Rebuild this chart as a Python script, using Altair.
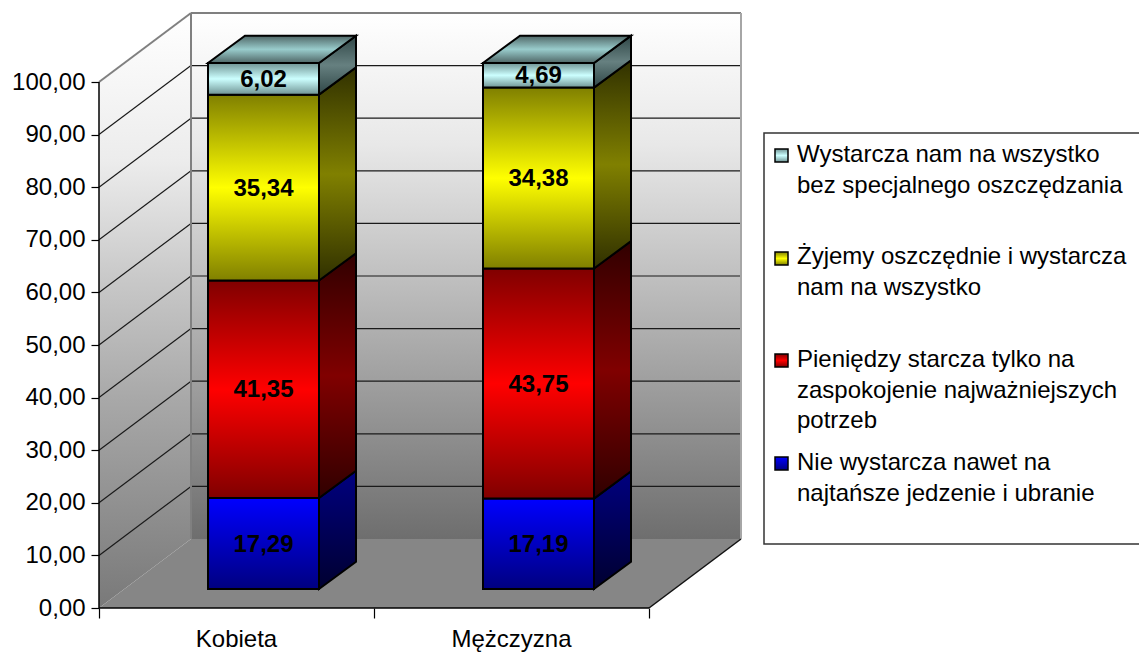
import altair as alt
import pandas as pd

# ---- data ----
categories = ["Kobieta", "Mężczyzna"]
nie_wystarcza = [17.29, 17.19]
pieniedzy = [41.35, 43.75]
zyjemy = [35.34, 34.38]
wystarcza = [6.02, 4.69]
y_ticks = [0, 10, 20, 30, 40, 50, 60, 70, 80, 90, 100]
legend_lines = [
    ["Wystarcza nam na wszystko", "bez specjalnego oszczędzania"],
    ["Żyjemy oszczędnie i wystarcza", "nam na wszystko"],
    ["Pieniędzy starcza tylko na", "zaspokojenie najważniejszych", "potrzeb"],
    ["Nie wystarcza nawet na", "najtańsze jedzenie i ubranie"],
]

# ---- geometry of the oblique projection ----
PX = 5.26            # pixels per unit on the value axis
X0, X_SLOT = 99, 275
WALL_DX, WALL_DV = 92, 69 / PX
BAR_W, BAR_DX, BAR_DV = 111, 37, 27.3 / PX
BAR_OFFSET = 109
BASE = 19 / PX
VIEW_W, VIEW_H = 1040, 600
FONT = "Liberation Sans"


def grad(*stops):
    n = len(stops) - 1
    return {"gradient": "linear", "x1": 0, "x2": 0, "y1": 0, "y2": 1,
            "stops": [{"offset": i / n, "color": c} for i, c in enumerate(stops)]}


def grad_at(*pairs):
    return {"gradient": "linear", "x1": 0, "x2": 0, "y1": 0, "y2": 1,
            "stops": [{"offset": o, "color": c} for o, c in pairs]}


series = [
    (nie_wystarcza, grad("#0000ff", "#000080"), grad("#000080", "#000030")),
    (pieniedzy, grad("#800000", "#ff0000", "#800000"), grad("#300000", "#800000", "#300000")),
    (zyjemy, grad("#808000", "#ffff00", "#808000"), grad("#303000", "#808000", "#303000")),
    (wystarcza, grad("#6f9393", "#ccffff", "#6f9393"), grad("#2f4646", "#668080", "#2f4646")),
]
TOP_GRAD = grad("#4f6666", "#99cccc", "#4f6666")

XS = alt.Scale(domain=[X0, X0 + VIEW_W], nice=False, zero=False)
YS = alt.Scale(domain=[0, VIEW_H / PX], nice=False, zero=False)
X = alt.X("x:Q", title=None, scale=XS)
Y = alt.Y("y:Q", title=None, scale=YS)


def poly(rows, **mark):
    df = pd.DataFrame(rows, columns=["x", "y", "y2"])
    return alt.Chart(df).mark_area(interpolate="linear", orient="vertical", **mark).encode(
        x=X, y=alt.Y("y:Q", title=None, scale=YS, stack=None), y2="y2:Q")


def seg(x, y, x2, y2, **mark):
    df = pd.DataFrame([{"x": x, "y": y, "x2": x2, "y2": y2}])
    return alt.Chart(df).mark_rule(**mark).encode(x=X, y=Y, x2="x2:Q", y2="y2:Q")


layers = []
XR = X0 + 2 * X_SLOT
WALL_GRAD_SIDE = grad_at((0, "#ffffff"), (0.25, "#ececec"), (0.45, "#c8c8c8"), (0.65, "#a8a8a8"), (1, "#797979"))
WALL_GRAD_BACK = grad_at((0, "#ffffff"), (0.25, "#e8e8e8"), (0.5, "#c0c0c0"), (1, "#6e6e6e"))

# left wall, back wall, floor
layers.append(poly([[X0, 0, 100], [X0 + WALL_DX, WALL_DV, 100 + WALL_DV]], fill=WALL_GRAD_SIDE))
layers.append(poly([[X0 + WALL_DX, WALL_DV, 100 + WALL_DV], [XR + WALL_DX, WALL_DV, 100 + WALL_DV]],
                   fill=WALL_GRAD_BACK))
layers.append(poly([[X0, 0, 0], [X0 + WALL_DX, 0, WALL_DV], [XR, 0, WALL_DV], [XR + WALL_DX, WALL_DV, WALL_DV]],
                   fill="#868686"))

# gridlines
grid = pd.DataFrame([{"v": v, "back": v + WALL_DV, "x1": X0, "x2": X0 + WALL_DX, "x3": XR + WALL_DX}
                     for v in y_ticks[1:-1]])
layers.append(alt.Chart(grid).mark_rule(color="#1a1a1a", strokeWidth=1.2).encode(
    x=alt.X("x1:Q", title=None, scale=XS), x2="x2:Q",
    y=alt.Y("v:Q", title=None, scale=YS), y2="back:Q"))
layers.append(alt.Chart(grid).mark_rule(color="#1a1a1a", strokeWidth=1.2).encode(
    x=alt.X("x2:Q", title=None, scale=XS), x2="x3:Q",
    y=alt.Y("back:Q", title=None, scale=YS), y2="back:Q"))

# wall outlines
GRAY = dict(color="#808080", strokeWidth=2)
layers.append(seg(X0, 100, X0 + WALL_DX, 100 + WALL_DV, **GRAY))
layers.append(seg(X0 + WALL_DX, 100 + WALL_DV, XR + WALL_DX, 100 + WALL_DV, **GRAY))
layers.append(seg(X0 + WALL_DX, WALL_DV, X0 + WALL_DX, 100 + WALL_DV, **GRAY))
layers.append(seg(XR + WALL_DX, WALL_DV, XR + WALL_DX, 100 + WALL_DV, color="#a6a6a6", strokeWidth=2))
layers.append(seg(XR, 0, XR + WALL_DX, WALL_DV, color="#111111", strokeWidth=1.5))

# stacked bars
labels = []
for c, name in enumerate(categories):
    left = X0 + c * X_SLOT + BAR_OFFSET
    right = left + BAR_W
    level = BASE
    for values, front, side in series:
        top = level + values[c]
        layers.append(poly([[right, level, top], [right + BAR_DX, level + BAR_DV, top + BAR_DV]],
                           fill=side, stroke="#000000", strokeWidth=2))
        rect = pd.DataFrame([{"x": left, "x2": right, "y": level, "y2": top}])
        layers.append(alt.Chart(rect).mark_rect(fill=front, stroke="#000000", strokeWidth=2).encode(
            x=X, x2="x2:Q", y=Y, y2="y2:Q"))
        labels.append({"x": (left + right) / 2, "y": (level + top) / 2,
                       "t": f"{values[c]:.2f}".replace(".", ",")})
        level = top
    layers.append(poly([[left, level, level], [left + BAR_DX, level, level + BAR_DV],
                        [right, level, level + BAR_DV], [right + BAR_DX, level + BAR_DV, level + BAR_DV]],
                       fill=TOP_GRAD, stroke="#000000", strokeWidth=2))

layers.append(alt.Chart(pd.DataFrame(labels)).mark_text(
    font=FONT, fontSize=24, fontWeight="bold", color="#000000", baseline="middle", dy=1).encode(
    x=X, y=Y, text="t:N"))

# axes: domain lines, ticks and labels
layers.append(seg(X0, 0, X0, 100, color="#000000", strokeWidth=1.5))
layers.append(seg(X0, 0, XR, 0, color="#000000", strokeWidth=1.5))

axis_df = pd.DataFrame({"y": y_ticks, "x": [X0] * len(y_ticks)})
layers.append(alt.Chart(axis_df).mark_point(opacity=0).encode(
    x=alt.X("x:Q", title=None, scale=XS,
            axis=alt.Axis(values=[X0 + i * X_SLOT for i in range(len(categories) + 1)], labels=False,
                          grid=False, domain=False, ticks=True, tickSize=10, tickColor="#000000",
                          tickWidth=1.2)),
    y=alt.Y("y:Q", title=None, scale=YS,
            axis=alt.Axis(values=y_ticks, grid=False, domain=False, tickSize=8, tickColor="#000000",
                          tickWidth=1.2, labelPadding=6, labelFont=FONT, labelFontSize=24,
                          labelColor="#000000",
                          labelExpr="replace(format(datum.value, '.2f'), '.', ',')"))))

cat_df = pd.DataFrame({"x": [X0 + (i + 0.5) * X_SLOT for i in range(len(categories))],
                       "y": [0] * len(categories), "t": categories})
layers.append(alt.Chart(cat_df).mark_text(
    font=FONT, fontSize=24, color="#000000", baseline="alphabetic", dy=39).encode(
    x=X, y=Y, text="t:N"))

# legend, laid out by hand in the chart's own pixels
LEG_X0, LEG_X1, LEG_Y0, LEG_Y1 = 764, 1160, 133, 544
pad_l, pad_t = 91, 0


def px(page_x):
    return page_x - 8 - pad_l


def py(page_y):
    return page_y - 8 - pad_t


layers.append(alt.Chart(pd.DataFrame([{"a": 1}])).mark_rect(fill="#ffffff", stroke="#333333", strokeWidth=1.5).encode(
    x=alt.value(px(LEG_X0)), x2=alt.value(px(LEG_X1)), y=alt.value(py(LEG_Y0)), y2=alt.value(py(LEG_Y1))))
baselines = [[162, 193], [264, 295], [367, 398, 428], [470, 501]]
swatch_tops = [149, 252, 354, 457]
swatch_fills = [series[3][1], series[2][1], series[1][1], series[0][1]]
for lines, bases, st, fill in zip(legend_lines, baselines, swatch_tops, swatch_fills):
    layers.append(alt.Chart(pd.DataFrame([{"a": 1}])).mark_rect(fill=fill, stroke="#000000", strokeWidth=1.5).encode(
        x=alt.value(px(775)), x2=alt.value(px(788)), y=alt.value(py(st)), y2=alt.value(py(st + 13))))
    for line, b in zip(lines, bases):
        layers.append(alt.Chart(pd.DataFrame([{"t": line}])).mark_text(
            font=FONT, fontSize=24, color="#000000", align="left", baseline="alphabetic").encode(
            x=alt.value(px(797)), y=alt.value(py(b)), text="t:N"))

chart = alt.layer(*layers).properties(
    width=VIEW_W, height=VIEW_H, autosize="none", background="#ffffff",
    padding={"left": pad_l, "top": pad_t, "right": 0, "bottom": 45},
).configure_view(stroke=None)

chart.save("out.html", embed_options={"renderer": "svg", "actions": False})
